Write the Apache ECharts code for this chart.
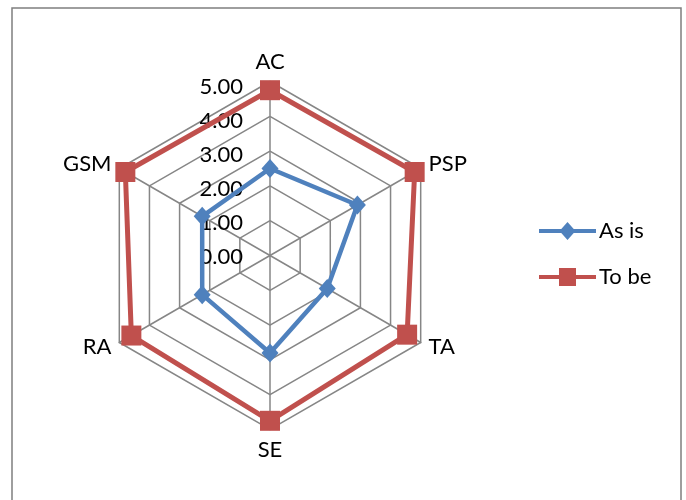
<!DOCTYPE html>
<html>
<head>
<meta charset="utf-8">
<script src="https://cdn.jsdelivr.net/npm/echarts@6/dist/echarts.min.js"></script>
<style>
  html, body { margin: 0; padding: 0; background: #fff; }
  #chart { width: 686px; height: 500px; }
</style>
</head>
<body>
<div id="chart"></div>
<script>
// Indicators listed clockwise from the top
const indicators = ['AC', 'PSP', 'TA', 'SE', 'RA', 'GSM'];
const asIs = [2.5, 2.9, 1.9, 2.8, 2.25, 2.25];
const toBe = [4.75, 4.8, 4.55, 4.75, 4.6, 4.8];
const scaleTicks = ['0.00', '1.00', '2.00', '3.00', '4.00', '5.00'];
const scaleMax = 5;

const FONT = 'Lato, "Open Sans", sans-serif';
const GRID_GREY = '#868686';
const BLUE = '#4F81BD';
const RED = '#C0504D';

// ECharts lays radar indicators out counter-clockwise, so walk the list backwards after the first
const order = [0, 5, 4, 3, 2, 1];
const pick = arr => order.map(i => arr[i]);

const chart = echarts.init(document.getElementById('chart'), null, { renderer: 'canvas' });

chart.setOption({
  animation: false,
  backgroundColor: '#fff',
  graphic: [{
    type: 'rect',
    shape: { x: 12, y: 8, width: 669, height: 520 },
    style: { fill: 'none', stroke: '#7f7f7f', lineWidth: 1.5 },
    silent: true
  }],
  legend: {
    orient: 'vertical',
    left: 534,
    top: 215,
    itemWidth: 57,
    itemHeight: 18,
    itemGap: 24,
    textStyle: { fontFamily: FONT, fontSize: 22, color: '#000', padding: [0, 0, 0, -2] },
    itemStyle: { borderWidth: 0 },
    data: [
      { name: 'As is', icon: 'path://M0 7L57 7L57 11L0 11Z M28.5 0L36.5 9L28.5 18L20.5 9Z' },
      { name: 'To be', icon: 'path://M0 7L57 7L57 11L0 11Z M20 0L37 0L37 18L20 18Z' }
    ]
  },
  // Value scale printed along the AC spoke
  grid: { left: 270, width: 1, top: 86.5, height: 170 },
  xAxis: { type: 'value', show: false },
  yAxis: {
    type: 'value',
    min: 0,
    max: scaleMax,
    interval: 1,
    axisLine: { show: false },
    axisTick: { show: false },
    splitLine: { show: false },
    axisLabel: {
      margin: 27,
      fontFamily: FONT,
      fontSize: 22,
      color: '#000',
      formatter: v => scaleTicks[Math.round(v)]
    }
  },
  radar: {
    center: [270, 255.5],
    radius: 174,
    startAngle: 90,
    shape: 'polygon',
    splitNumber: 5,
    nameGap: 9,
    axisName: { color: '#000', fontFamily: FONT, fontSize: 22 },
    splitLine: { lineStyle: { color: GRID_GREY, width: 1.5 } },
    splitArea: { show: false },
    axisLine: { lineStyle: { color: GRID_GREY, width: 1.5 } },
    axisTick: { show: false },
    axisLabel: { show: false },
    indicator: pick(indicators).map(name => ({ name, min: 0, max: scaleMax }))
  },
  series: [{
    type: 'radar',
    data: [
      {
        name: 'As is',
        value: pick(asIs),
        symbol: 'diamond',
        symbolSize: [17, 19],
        lineStyle: { color: BLUE, width: 4.5 },
        itemStyle: { color: BLUE, borderWidth: 0 }
      },
      {
        name: 'To be',
        value: pick(toBe),
        symbol: 'rect',
        symbolSize: 20,
        lineStyle: { color: RED, width: 5 },
        itemStyle: { color: RED, borderWidth: 0 }
      }
    ]
  }]
});
</script>
</body>
</html>
